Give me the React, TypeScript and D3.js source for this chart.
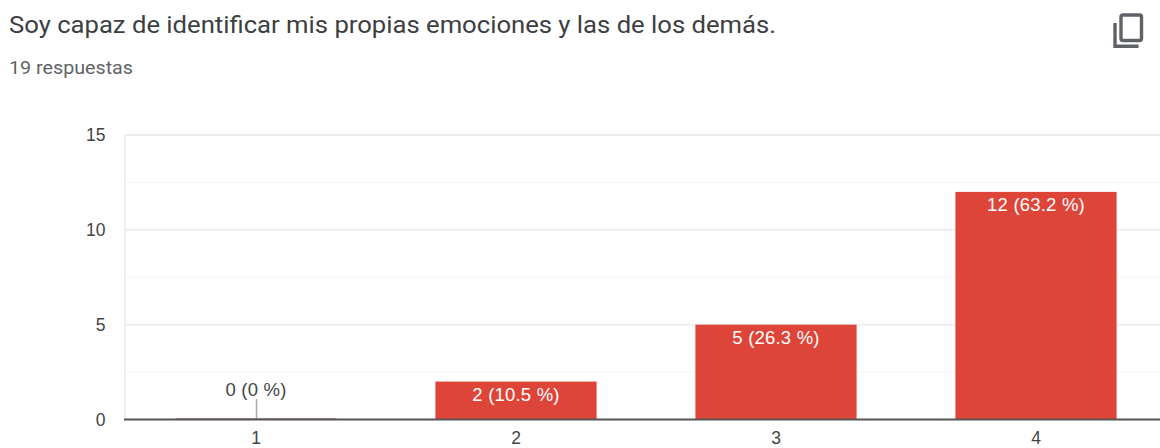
import React from "react";
import * as d3 from "d3";

const categories = ["1", "2", "3", "4"];
const counts = [0, 2, 5, 12];
const labels = ["0 (0 %)", "2 (10.5 %)", "5 (26.3 %)", "12 (63.2 %)"];
const majorTicks = [0, 5, 10, 15];
const minorTicks = [2.5, 7.5, 12.5];

const title = "Soy capaz de identificar mis propias emociones y las de los demás.";
const subtitle = "19 respuestas";

const W = 1160;
const H = 448;
const font = "Roboto, Arial, 'Liberation Sans', sans-serif";
const labelFont = "'Liberation Sans', Arial, sans-serif";

export default function App() {
  const x = d3.scaleBand<string>().domain(categories).range([126, 1166]).paddingInner(0.38).paddingOuter(0.19);
  const y = d3.scaleLinear().domain([0, 15]).range([419.5, 135]);
  return (
    <svg
      width={W}
      height={H}
      viewBox={`0 0 ${W} ${H}`}
      style={{ position: "absolute", left: 0, top: 0, display: "block", background: "#fff" }}
    >
      <text x={9} y={33} fontFamily={font} fontSize={23.5} textLength={767} lengthAdjust="spacingAndGlyphs" fill="#3c4043">{title}</text>
      <text x={9} y={74} fontFamily={font} fontSize={18} textLength={124} lengthAdjust="spacingAndGlyphs" fill="#5f6368">{subtitle}</text>

      <g fill="none" stroke="#5f6368" strokeWidth={3.4}>
        <rect x={1121} y={15} width={20.5} height={25.5} rx={2} />
        <path d="M1115 23 V46.2 H1138.5" />
      </g>

      {minorTicks.map(t => (
        <line key={t} x1={125} x2={W} y1={y(t)} y2={y(t)} stroke="#f5f5f5" strokeWidth={1} />
      ))}
      {majorTicks.filter(t => t > 0).map(t => (
        <line key={t} x1={125} x2={W} y1={y(t)} y2={y(t)} stroke="#ededed" strokeWidth={2} />
      ))}
      <line x1={125} x2={125} y1={134} y2={419} stroke="#efefef" strokeWidth={2} />

      {majorTicks.map(t => (
        <text key={t} x={105.5} y={y(t) + 6} textAnchor="end" fontFamily={labelFont} fontSize={17.5} fill="#444">{t}</text>
      ))}

      {categories.map((c, i) => {
        const bx = x(c)!;
        const top = y(counts[i]);
        const cx = bx + x.bandwidth() / 2;
        return (
          <g key={c}>
            {counts[i] > 0 ? (
              <rect x={bx} y={top} width={x.bandwidth()} height={y(0) - top} fill="#dd4539" />
            ) : (
              <>
                <line x1={bx} x2={bx + x.bandwidth()} y1={y(0) - 1} y2={y(0) - 1} stroke="#c9a5a0" strokeWidth={1} />
                <line x1={cx + 0.5} x2={cx + 0.5} y1={399} y2={y(0)} stroke="#aaaaaa" strokeWidth={1.5} />
              </>
            )}
            <text
              x={cx}
              y={counts[i] > 0 ? top + 19 : 395.5}
              textAnchor="middle"
              fontFamily={labelFont}
              fontSize={18.5}
              letterSpacing={0.2}
              fill={counts[i] > 0 ? "#fff" : "#444"}
            >
              {labels[i]}
            </text>
            <text x={cx} y={444.2} textAnchor="middle" fontFamily={labelFont} fontSize={17.5} fill="#444">{c}</text>
          </g>
        );
      })}
      <line x1={124} x2={W} y1={y(0)} y2={y(0)} stroke="#555" strokeWidth={2} />
    </svg>
  );
}
